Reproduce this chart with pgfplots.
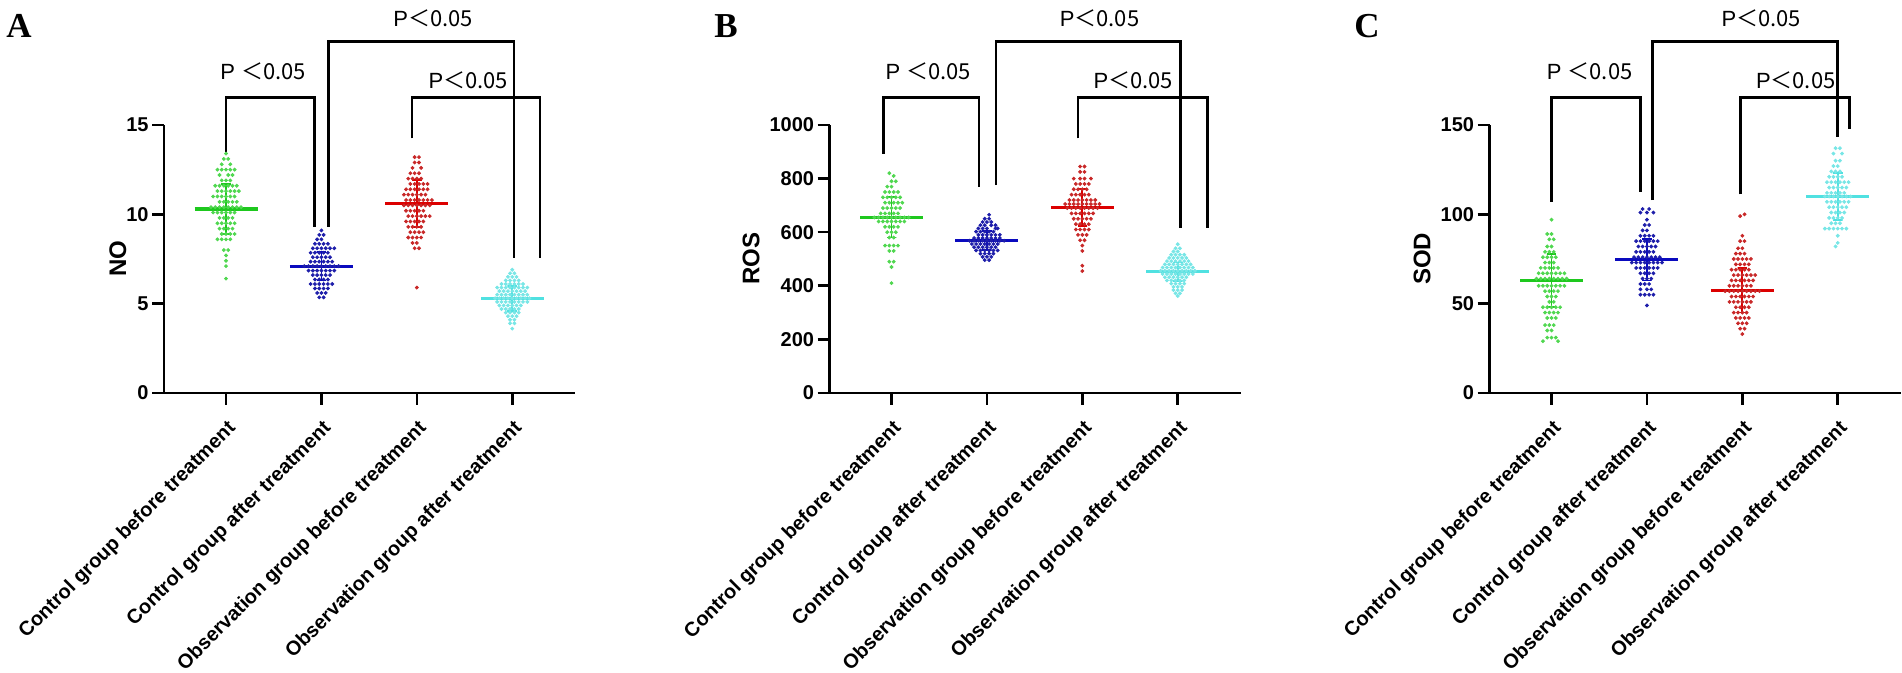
\documentclass[border=0pt]{standalone}
\usepackage{fontspec}
\setmainfont{Liberation Sans}
\newfontfamily\serifb{Liberation Serif}
\newfontfamily\cjk{Noto Sans CJK SC}
\usepackage{pgfplots}
\pgfplotsset{compat=1.18}

\definecolor{gdot}{RGB}{80,215,80}
\definecolor{gline}{RGB}{30,200,30}
\definecolor{bdot}{RGB}{30,30,170}
\definecolor{bline}{RGB}{10,10,190}
\definecolor{rdot}{RGB}{200,40,40}
\definecolor{rline}{RGB}{220,0,0}
\definecolor{cdot}{RGB}{120,230,230}
\definecolor{cline}{RGB}{80,225,225}

\tikzset{ptxt/.style={font=\fontsize{11}{13}\selectfont}}
\pgfplotsset{
  dotpanel/.style={
    scale only axis, width=205.6pt, height=134pt,
    xmin=-0.65, xmax=3.66, ymin=0,
    axis lines=left,
    axis line style={-, line width=1.3pt},
    tick style={black, line width=1.3pt},
    major tick length=6pt,
    tick align=outside,
    xtick={0,1,2,3},
    xticklabels={Control group before treatment, Control group after treatment, Observation group before treatment, Observation group after treatment},
    xticklabel shift=6pt,
    xticklabel style={rotate=45, anchor=north east, inner sep=0.5pt, font=\bfseries\fontsize{10}{12}\selectfont},
    yticklabel style={font=\bfseries\fontsize{10}{12}\selectfont, inner sep=1.5pt},
    ylabel style={font=\bfseries\fontsize{12}{14}\selectfont},
    /pgf/number format/assume math mode=true,
    /pgf/number format/1000 sep={},
    scaled y ticks=false,
    clip=false,
  },
  dots/.style={only marks, mark=*, mark size=0.75pt, color=#1, mark options={draw=none, fill=#1}},
  mean/.style={color=#1, line width=1.6pt},
  sd/.style={color=#1, line width=0.9pt},
  bracket/.style={black, line width=1.3pt, line join=miter},
}

\begin{document}
\begin{tikzpicture}
\path[use as bounding box] (0,0) rectangle (951pt,336.5pt);

% ---------------- Panel A ----------------
\begin{axis}[dotpanel, at={(82pt,140pt)}, anchor=south west, ymax=15, ytick={0,5,10,15}, ylabel={NO}, ylabel shift=-5pt]
\addplot[dots=gdot] coordinates {
(0,13.4) (-.023,13.1) (.023,13.1) (-.045,12.8) (.045,12.8)
(-.09,12.5) (-.045,12.5) (0,12.5) (.045,12.5) (.09,12.5)
(-.068,12.2) (.023,12.2) (.068,12.2) (-.045,11.9) (0,11.9) (.045,11.9)
(-.113,11.6) (-.068,11.6) (-.023,11.6) (.023,11.6) (.068,11.6) (.113,11.6)
(-.09,11.3) (-.045,11.3) (0,11.3) (.045,11.3) (.09,11.3) (.135,11.3)
(-.135,11) (-.09,11) (-.045,11) (0,11) (.045,11) (.09,11)
(-.068,10.7) (-.023,10.7) (.023,10.7) (.068,10.7) (.113,10.7)
(-.158,10.4) (-.113,10.4) (-.068,10.4) (-.023,10.4) (.023,10.4) (.068,10.4) (.113,10.4) (.158,10.4)
(-.135,10.1) (-.09,10.1) (-.045,10.1) (0,10.1) (.045,10.1) (.09,10.1)
(-.068,9.8) (-.023,9.8) (.023,9.8) (.068,9.8)
(-.09,9.5) (-.045,9.5) (0,9.5) (.045,9.5) (.09,9.5)
(-.068,9.2) (-.023,9.2) (.023,9.2) (.068,9.2)
(-.045,8.9) (0,8.9) (.045,8.9) (.09,8.9)
(-.09,8.6) (-.045,8.6) (0,8.6) (.045,8.6)
(-.023,8) (.023,8) (0,7.7) (0,7.4) (0,7.1) (0,6.4)
};
\addplot[dots=bdot] coordinates {
(1,9.1) (.977,8.85) (1.023,8.85) (.955,8.6) (1,8.6)
(.932,8.35) (.977,8.35) (1.023,8.35) (1.068,8.35)
(.91,8.1) (.955,8.1) (1,8.1) (1.045,8.1) (1.09,8.1) (1.135,8.1)
(.887,7.85) (.932,7.85) (.977,7.85) (1.023,7.85) (1.068,7.85)
(.91,7.6) (.955,7.6) (1,7.6) (1.045,7.6) (1.09,7.6)
(.887,7.35) (.932,7.35) (.977,7.35) (1.023,7.35) (1.068,7.35) (1.113,7.35)
(.82,7.1) (.865,7.1) (.91,7.1) (.955,7.1) (1,7.1) (1.045,7.1) (1.09,7.1) (1.135,7.1) (1.18,7.1)
(.865,6.85) (.91,6.85) (.955,6.85) (1,6.85) (1.045,6.85) (1.09,6.85) (1.135,6.85)
(.91,6.6) (.955,6.6) (1,6.6) (1.045,6.6) (1.09,6.6)
(.932,6.35) (.977,6.35) (1.023,6.35) (1.068,6.35)
(.887,6.1) (.932,6.1) (.977,6.1) (1.023,6.1) (1.068,6.1) (1.113,6.1)
(.932,5.85) (.977,5.85) (1.023,5.85) (1.068,5.85)
(.955,5.6) (1,5.6) (1.045,5.6) (.977,5.35) (1.023,5.35)
};
\addplot[dots=rdot] coordinates {
(1.977,13.2) (2.023,13.2) (1.977,12.9) (2.023,12.9) (1.955,12.6) (2.045,12.6)
(1.932,12.3) (1.977,12.3) (2.023,12.3) (1.91,12) (1.955,12) (2,12) (2.045,12)
(1.932,11.7) (1.977,11.7) (2.023,11.7) (2.068,11.7) (2.113,11.7)
(1.887,11.4) (1.932,11.4) (1.977,11.4) (2.023,11.4) (2.068,11.4) (2.113,11.4)
(1.865,11.1) (1.91,11.1) (1.955,11.1) (2,11.1) (2.045,11.1) (2.09,11.1)
(1.887,10.8) (1.932,10.8) (1.977,10.8) (2.023,10.8) (2.068,10.8) (2.113,10.8) (2.158,10.8)
(1.865,10.5) (1.91,10.5) (1.955,10.5) (2,10.5) (2.045,10.5) (2.09,10.5) (2.135,10.5)
(1.887,10.2) (1.932,10.2) (1.977,10.2) (2.023,10.2) (2.068,10.2)
(1.91,9.9) (1.955,9.9) (2,9.9) (2.045,9.9) (2.09,9.9) (2.135,9.9)
(1.887,9.6) (1.932,9.6) (1.977,9.6) (2.023,9.6) (2.068,9.6)
(1.91,9.3) (1.955,9.3) (2,9.3) (2.045,9.3)
(1.932,9) (1.977,9) (2.023,9) (2.068,9)
(1.91,8.7) (1.955,8.7) (2,8.7) (2.045,8.7)
(1.955,8.4) (2,8.4) (1.977,8.1) (2.023,8.1) (2,5.9)
};
\addplot[dots=cdot] coordinates {
(3,6.9) (2.977,6.7) (3.023,6.7) (2.955,6.5) (3,6.5) (3.045,6.5)
(2.932,6.3) (2.977,6.3) (3.023,6.3) (3.068,6.3)
(2.887,6.1) (2.932,6.1) (2.977,6.1) (3.023,6.1) (3.068,6.1) (3.113,6.1)
(2.842,5.9) (2.887,5.9) (2.932,5.9) (2.977,5.9) (3.023,5.9) (3.068,5.9) (3.113,5.9) (3.158,5.9)
(2.865,5.7) (2.91,5.7) (2.955,5.7) (3,5.7) (3.045,5.7) (3.09,5.7) (3.135,5.7)
(2.842,5.5) (2.887,5.5) (2.932,5.5) (2.977,5.5) (3.023,5.5) (3.068,5.5) (3.113,5.5) (3.158,5.5)
(2.82,5.3) (2.865,5.3) (2.91,5.3) (2.955,5.3) (3,5.3) (3.045,5.3) (3.09,5.3) (3.135,5.3) (3.18,5.3)
(2.842,5.1) (2.887,5.1) (2.932,5.1) (2.977,5.1) (3.023,5.1) (3.068,5.1) (3.113,5.1) (3.158,5.1)
(2.865,4.9) (2.91,4.9) (2.955,4.9) (3,4.9) (3.045,4.9) (3.09,4.9)
(2.887,4.7) (2.932,4.7) (2.977,4.7) (3.023,4.7) (3.068,4.7)
(2.932,4.5) (2.977,4.5) (3.023,4.5) (3.068,4.5)
(2.955,4.3) (3,4.3) (3.045,4.3) (2.977,4.1) (3.023,4.1) (2.977,3.9) (3.023,3.9) (3,3.6)
};
% means and SD
\addplot[mean=gline] coordinates {(-0.33,10.3) (0.33,10.3)};
\addplot[sd=gline] coordinates {(-0.05,8.9) (0.05,8.9) (0,8.9) (0,11.7) (-0.05,11.7) (0.05,11.7)};
\addplot[mean=bline] coordinates {(0.67,7.1) (1.33,7.1)};
\addplot[sd=bline] coordinates {(0.95,6.3) (1.05,6.3) (1,6.3) (1,7.9) (0.95,7.9) (1.05,7.9)};
\addplot[mean=rline] coordinates {(1.67,10.6) (2.33,10.6)};
\addplot[sd=rline] coordinates {(1.95,9.3) (2.05,9.3) (2,9.3) (2,11.9) (1.95,11.9) (2.05,11.9)};
\addplot[mean=cline] coordinates {(2.67,5.3) (3.33,5.3)};
\addplot[sd=cline] coordinates {(2.95,4.6) (3.05,4.6) (3,4.6) (3,6.0) (2.95,6.0) (3.05,6.0)};
% brackets
\addplot[bracket] coordinates {(0,13.5) (0,16.53) (0.925,16.53) (0.925,9.3)};
\addplot[bracket] coordinates {(1.076,9.3) (1.076,19.66) (3.02,19.66) (3.02,7.54)};
\addplot[bracket] coordinates {(1.95,14.25) (1.95,16.53) (3.29,16.53) (3.29,7.54)};
\node[ptxt] at (axis cs:0.39,18.0) {P \cjk{＜}0.05};
\node[ptxt] at (axis cs:2.17,20.97) {P\cjk{＜}0.05};
\node[ptxt] at (axis cs:2.54,17.52) {P\cjk{＜}0.05};
\end{axis}

% ---------------- Panel B ----------------
\begin{axis}[dotpanel, at={(414.75pt,140pt)}, anchor=south west, ymax=1000, ytick={0,200,400,600,800,1000}, ylabel={ROS}]
\addplot[dots=gdot] coordinates {
(-.023,820) (.023,810) (0,790) (.045,790) (-.045,770) (0,770)
(-.068,750) (-.023,750) (.023,750) (.068,750)
(-.09,730) (-.045,730) (0,730) (.045,730) (.09,730)
(-.068,710) (-.023,710) (.023,710) (.068,710) (.113,710)
(-.09,690) (-.045,690) (0,690) (.045,690) (.09,690)
(-.113,670) (-.068,670) (-.023,670) (.023,670) (.068,670)
(-.18,655) (-.135,655) (-.09,655) (-.045,655) (0,655) (.045,655) (.09,655) (.135,655) (.18,655)
(-.135,640) (-.09,640) (-.045,640) (0,640) (.045,640) (.09,640) (.135,640)
(-.068,620) (-.023,620) (.023,620) (.068,620)
(-.045,600) (0,600) (.045,600) (-.023,580) (.023,580)
(-.068,550) (-.023,550) (.023,550) (.068,550)
(-.023,530) (.023,530) (-.023,490) (.023,490) (0,470) (0,410)
};
\addplot[dots=bdot] coordinates {
(1.023,665) (.977,650) (1.023,650) (.955,638) (1,638) (1.045,638)
(.932,626) (.977,626) (1.045,626) (1.09,626)
(.91,614) (.955,614) (1,614) (1.09,614) (1.113,614)
(.887,602) (.932,602) (.977,602) (1.023,602) (1.068,602)
(.91,590) (.955,590) (1,590) (1.045,590) (1.09,590) (1.135,590)
(.865,578) (.91,578) (.955,578) (1,578) (1.045,578) (1.09,578) (1.135,578)
(.82,568) (.865,568) (.91,568) (.955,568) (1,568) (1.045,568) (1.09,568) (1.135,568) (1.18,568)
(.842,556) (.887,556) (.932,556) (.977,556) (1.023,556) (1.068,556) (1.113,556)
(.865,544) (.91,544) (.955,544) (1,544) (1.045,544) (1.09,544)
(.887,532) (.932,532) (.977,532) (1.023,532) (1.068,532) (1.113,532)
(.932,520) (.977,520) (1.023,520) (1.068,520)
(.955,508) (1,508) (1.045,508) (.977,496) (1.023,496)
};
\addplot[dots=rdot] coordinates {
(1.977,845) (2.023,845) (1.977,825) (2.023,825)
(1.91,800) (1.977,800) (2.023,800) (2.09,800)
(1.932,780) (1.977,780) (2.023,780) (2.068,780)
(1.91,760) (1.955,760) (2,760) (2.045,760)
(1.887,740) (1.932,740) (1.977,740) (2.023,740) (2.068,740)
(1.865,720) (1.91,720) (1.955,720) (2,720) (2.045,720) (2.09,720) (2.135,720)
(1.82,705) (1.865,705) (1.91,705) (1.955,705) (2,705) (2.045,705) (2.09,705) (2.135,705) (2.18,705)
(1.842,690) (1.887,690) (1.932,690) (1.977,690) (2.023,690) (2.068,690) (2.113,690) (2.158,690)
(1.887,670) (1.932,670) (1.977,670) (2.023,670) (2.068,670) (2.113,670)
(1.91,650) (1.955,650) (2,650) (2.045,650) (2.09,650)
(1.932,630) (1.977,630) (2.023,630) (2.068,630)
(1.932,610) (1.977,610) (2.023,610) (2.068,610)
(1.955,590) (2,590) (2.045,590) (1.977,570) (2.023,570)
(2,550) (2,530) (2,475) (2,455)
};
\addplot[dots=cdot] coordinates {
(3,555) (2.977,540) (3.023,540) (2.955,528) (3,528)
(2.932,516) (2.977,516) (3.023,516) (3.068,516)
(2.91,504) (2.955,504) (3,504) (3.045,504) (3.09,504)
(2.887,492) (2.932,492) (2.977,492) (3.023,492) (3.068,492) (3.113,492)
(2.865,480) (2.91,480) (2.955,480) (3,480) (3.045,480) (3.09,480) (3.135,480)
(2.842,468) (2.887,468) (2.932,468) (2.977,468) (3.023,468) (3.068,468) (3.113,468) (3.158,468)
(2.82,456) (2.865,456) (2.91,456) (2.955,456) (3,456) (3.045,456) (3.09,456) (3.135,456) (3.18,456)
(2.842,444) (2.887,444) (2.932,444) (2.977,444) (3.023,444) (3.068,444) (3.113,444) (3.158,444)
(2.865,432) (2.91,432) (2.955,432) (3,432) (3.045,432) (3.09,432)
(2.887,420) (2.932,420) (2.977,420) (3.023,420) (3.068,420)
(2.932,408) (2.977,408) (3.023,408) (3.068,408)
(2.955,396) (3,396) (3.045,396) (2.955,384) (3,384) (3.045,384)
(2.977,372) (3.023,372) (3,362)
};
\addplot[mean=gline] coordinates {(-0.33,655) (0.33,655)};
\addplot[sd=gline] coordinates {(-0.05,580) (0.05,580) (0,580) (0,730) (-0.05,730) (0.05,730)};
\addplot[mean=bline] coordinates {(0.67,568) (1.33,568)};
\addplot[sd=bline] coordinates {(0.95,533) (1.05,533) (1,533) (1,603) (0.95,603) (1.05,603)};
\addplot[mean=rline] coordinates {(1.67,692) (2.33,692)};
\addplot[sd=rline] coordinates {(1.95,622) (2.05,622) (2,622) (2,762) (1.95,762) (2.05,762)};
\addplot[mean=cline] coordinates {(2.67,452) (3.33,452)};
\addplot[sd=cline] coordinates {(2.95,417) (3.05,417) (3,417) (3,487) (2.95,487) (3.05,487)};
\addplot[bracket] coordinates {(-0.086,892) (-0.086,1102) (0.915,1102) (0.915,770)};
\addplot[bracket] coordinates {(1.096,776) (1.096,1311) (3.03,1311) (3.03,614)};
\addplot[bracket] coordinates {(1.955,950) (1.955,1102) (3.31,1102) (3.31,614)};
\node[ptxt] at (axis cs:0.386,1199) {P \cjk{＜}0.05};
\node[ptxt] at (axis cs:2.18,1398) {P\cjk{＜}0.05};
\node[ptxt] at (axis cs:2.535,1168) {P\cjk{＜}0.05};
\end{axis}

% ---------------- Panel C ----------------
\begin{axis}[dotpanel, at={(744.75pt,140pt)}, anchor=south west, ymax=150, ytick={0,50,100,150}, ylabel={SOD}]
\addplot[dots=gdot] coordinates {
(0,97) (-.045,89) (0,89) (-.023,86) (.023,86) (-.045,82) (0,82)
(-.068,79) (-.023,79) (.023,79) (-.09,76) (-.045,76) (0,76) (.045,76)
(-.068,73) (-.023,73) (.023,73)
(-.113,70) (-.068,70) (-.023,70) (.023,70) (.068,70)
(-.135,67) (-.09,67) (-.045,67) (0,67) (.045,67) (.09,67) (.135,67)
(-.158,64) (-.113,64) (-.068,64) (-.023,64) (.023,64) (.068,64) (.113,64) (.158,64)
(-.135,60) (-.09,60) (-.045,60) (0,60) (.045,60) (.09,60) (.135,60)
(-.068,57) (-.023,57) (.023,57) (.068,57)
(-.045,54) (0,54) (.045,54) (-.023,51) (.023,51)
(-.09,48) (-.045,48) (0,48) (.045,48) (.09,48)
(-.068,45) (-.023,45) (.023,45) (.068,45)
(-.045,42) (0,42) (.045,42) (-.068,38) (-.023,38) (.023,38)
(-.045,35) (0,35) (-.045,31) (0,31) (.045,31) (-.09,29) (.068,29)
};
\addplot[dots=bdot] coordinates {
(.955,103) (1.023,103) (.932,101) (1,101) (1.068,101) (1,97)
(.977,94) (1.023,94) (.955,91) (1,91)
(.932,88) (.977,88) (1.023,88) (1.068,88)
(.887,85) (.932,85) (.977,85) (1.023,85) (1.068,85) (1.113,85)
(.91,82) (.955,82) (1,82) (1.045,82) (1.09,82)
(.887,79) (.932,79) (.977,79) (1.023,79) (1.068,79)
(.865,76) (.91,76) (.955,76) (1,76) (1.045,76) (1.09,76) (1.135,76)
(.842,73) (.887,73) (.932,73) (.977,73) (1.023,73) (1.068,73) (1.113,73) (1.158,73)
(.887,70) (.932,70) (.977,70) (1.023,70) (1.068,70) (1.113,70)
(.932,67) (.977,67) (1.023,67) (1.068,67)
(.955,64) (1,64) (1.045,64) (.932,61) (.977,61) (1.023,61)
(.932,58) (1,58) (1.045,58) (.932,55) (.977,55) (1.023,55) (1.068,55) (1,49)
};
\addplot[dots=rdot] coordinates {
(2.023,100) (1.977,99) (2,88) (1.977,85) (2.023,85) (1.955,81) (2,81)
(1.932,78) (1.977,78) (2.023,78)
(1.91,75) (1.955,75) (2,75) (2.045,75) (2.09,75)
(1.932,72) (1.977,72) (2.023,72) (2.068,72)
(1.887,69) (1.932,69) (1.977,69) (2.023,69) (2.068,69)
(1.91,66) (1.955,66) (2,66) (2.045,66) (2.09,66) (2.135,66)
(1.887,63) (1.932,63) (1.977,63) (2.023,63) (2.068,63) (2.113,63)
(1.865,60) (1.91,60) (1.955,60) (2,60) (2.045,60) (2.09,60)
(1.82,57) (1.865,57) (1.91,57) (1.955,57) (2,57) (2.045,57) (2.09,57) (2.135,57) (2.18,57)
(1.887,54) (1.932,54) (1.977,54) (2.023,54) (2.068,54) (2.113,54)
(1.865,51) (1.91,51) (1.955,51) (2,51) (2.045,51) (2.09,51)
(1.932,48) (1.977,48) (2.023,48) (2.068,48)
(1.91,45) (1.955,45) (2,45) (2.045,45)
(1.932,42) (1.977,42) (2.023,42) (2.068,42)
(1.955,39) (2,39) (2.045,39) (1.977,36) (2.023,36) (2,33)
};
\addplot[dots=cdot] coordinates {
(2.977,137) (3.023,137) (2.955,134) (3.045,134) (2.977,130) (3.023,130)
(2.955,127) (3,127) (2.932,124) (2.977,124) (3.023,124)
(2.91,121) (2.955,121) (3,121) (3.045,121)
(2.887,118) (2.932,118) (2.977,118) (3.023,118) (3.068,118) (3.113,118)
(2.91,115) (2.955,115) (3,115) (3.045,115) (3.09,115)
(2.887,112) (2.932,112) (2.977,112) (3.023,112) (3.068,112)
(2.865,110) (2.91,110) (2.955,110) (3,110) (3.045,110) (3.09,110) (3.135,110)
(2.887,107) (2.932,107) (2.977,107) (3.023,107) (3.068,107) (3.113,107)
(2.91,104) (2.955,104) (3,104) (3.045,104) (3.09,104)
(2.932,101) (2.977,101) (3.023,101) (3.068,101)
(2.91,98) (2.955,98) (3,98) (3.045,98) (2.932,95) (2.977,95) (3.023,95)
(2.865,92) (2.91,92) (2.955,92) (3,92) (3.045,92) (3.09,92)
(3,88) (3,84) (2.977,82)
};
\addplot[mean=gline] coordinates {(-0.33,63) (0.33,63)};
\addplot[sd=gline] coordinates {(-0.05,48) (0.05,48) (0,48) (0,78) (-0.05,78) (0.05,78)};
\addplot[mean=bline] coordinates {(0.67,74.5) (1.33,74.5)};
\addplot[sd=bline] coordinates {(0.95,63) (1.05,63) (1,63) (1,86) (0.95,86) (1.05,86)};
\addplot[mean=rline] coordinates {(1.67,57.5) (2.33,57.5)};
\addplot[sd=rline] coordinates {(1.95,45) (2.05,45) (2,45) (2,70) (1.95,70) (2.05,70)};
\addplot[mean=cline] coordinates {(2.67,110) (3.33,110)};
\addplot[sd=cline] coordinates {(2.95,97) (3.05,97) (3,97) (3,123) (2.95,123) (3.05,123)};
\addplot[bracket] coordinates {(0,107) (0,165.3) (0.93,165.3) (0.93,112.6)};
\addplot[bracket] coordinates {(1.06,108) (1.06,196.7) (3.0,196.7) (3.0,143.5)};
\addplot[bracket] coordinates {(1.98,111.2) (1.98,165.3) (3.12,165.3) (3.12,148)};
\node[ptxt] at (axis cs:0.4,180) {P \cjk{＜}0.05};
\node[ptxt] at (axis cs:2.2,209.8) {P\cjk{＜}0.05};
\node[ptxt] at (axis cs:2.56,175.2) {P\cjk{＜}0.05};
\end{axis}

% panel letters
\node[anchor=base west, inner sep=0pt, font=\serifb\bfseries\fontsize{17.5}{20}\selectfont] at (3pt,317.5pt) {A};
\node[anchor=base west, inner sep=0pt, font=\serifb\bfseries\fontsize{17.5}{20}\selectfont] at (357pt,317.5pt) {B};
\node[anchor=base west, inner sep=0pt, font=\serifb\bfseries\fontsize{17.5}{20}\selectfont] at (677pt,317.5pt) {C};
\end{tikzpicture}
\end{document}
